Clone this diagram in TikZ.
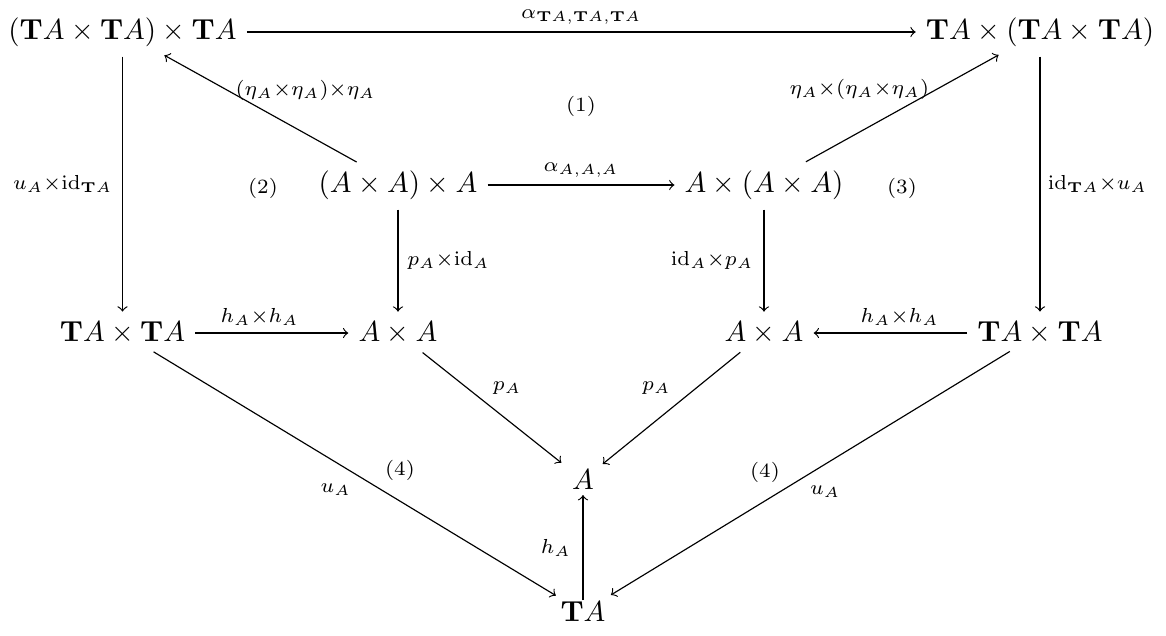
\documentclass[tikz,border=0pt]{standalone}
\usetikzlibrary{calc}
\begin{document}
\begin{tikzpicture}[x=0.345pt,y=-0.345pt,>=to,
  obj/.style={inner sep=3.33pt},
  lbl/.style={inner sep=2.5pt},
  reg/.style={font=\scriptsize, inner sep=0pt}]
\useasboundingbox (0,0) rectangle (1166,635);
% objects
\node[obj] (tl)  at (122.5,32)  {$(\mathbf{T}A\times\mathbf{T}A)\times\mathbf{T}A$};
\node[obj] (tr)  at (1040,32) {$\mathbf{T}A\times(\mathbf{T}A\times\mathbf{T}A)$};
\node[obj] (al)  at (398,185) {$(A\times A)\times A$};
\node[obj] (ar)  at (764,185) {$A\times(A\times A)$};
\node[obj] (ttl) at (122.5,333) {$\mathbf{T}A\times\mathbf{T}A$};
\node[obj] (aal) at (398,333) {$A\times A$};
\node[obj] (aar) at (764,333) {$A\times A$};
\node[obj] (ttr) at (1040,333) {$\mathbf{T}A\times\mathbf{T}A$};
\node[obj] (a)   at (583,480) {$A$};
\node[obj] (ta)  at (583,612) {$\mathbf{T}A$};
% region labels
\node[reg] (r1)  at (581,106) {$(1)$};
\node[reg] (r2)  at (263,188) {$(2)$};
\node[reg] (r3)  at (902,188) {$(3)$};
\node[reg] (r4l) at (400,470) {$(4)$};
\node[reg] (r4r) at (765,472) {$(4)$};
% arrows
\draw[->] (tl) -- node[lbl,above] {$\scriptstyle\alpha_{\mathbf{T}A,\mathbf{T}A,\mathbf{T}A}$} (tr);
\draw[->] (al) -- node[lbl,above] {$\scriptstyle\alpha_{A,A,A}$} (ar);
\draw[->] ($(al)!0.15!(tl)$) -- node[lbl,pos=0.67,anchor=west] {$\scriptstyle(\eta_A\times\eta_A)\times\eta_A$} ($(al)!0.848!(tl)$);
\draw[->] ($(ar)!0.152!(tr)$) -- node[lbl,pos=0.68,anchor=east] {$\scriptstyle\eta_A\times(\eta_A\times\eta_A)$} ($(ar)!0.85!(tr)$);
\draw[->] (tl) -- node[lbl,left,inner sep=3.33pt] {$\scriptstyle u_A\times \mathrm{id}_{\mathbf{T}A}$} (ttl);
\draw[->] (tr) -- node[lbl,right] {$\scriptstyle\mathrm{id}_{\mathbf{T}A}\times u_A$} (ttr);
\draw[->] (al) -- node[lbl,right,inner sep=3pt] {$\scriptstyle p_A\times \mathrm{id}_A$} (aal);
\draw[->] (ar) -- node[lbl,left,inner sep=3.5pt] {$\scriptstyle\mathrm{id}_A\times p_A$} (aar);
\draw[->] (ttl) -- node[lbl,above,pos=0.42] {$\scriptstyle h_A\times h_A$} (aal);
\draw[->] (ttr) -- node[lbl,above,pos=0.44] {$\scriptstyle h_A\times h_A$} (aar);
\draw[->] ($(aal)!0.133!(a)$) -- node[lbl,pos=0.45,anchor=south west] {$\scriptstyle p_A$} ($(aal)!0.883!(a)$);
\draw[->] ($(aar)!0.131!(a)$) -- node[lbl,pos=0.45,anchor=south east] {$\scriptstyle p_A$} ($(aar)!0.891!(a)$);
\draw[->] ($(ttl)!0.0675!(ta)$) -- node[lbl,pos=0.51,anchor=north east] {$\scriptstyle u_A$} ($(ttl)!0.941!(ta)$);
\draw[->] ($(ttr)!0.066!(ta)$) -- node[lbl,pos=0.52,anchor=north west] {$\scriptstyle u_A$} ($(ttr)!0.939!(ta)$);
\draw[->] ($(ta)!0.09!(a)$) -- node[lbl,left,inner sep=4pt] {$\scriptstyle h_A$} ($(ta)!0.886!(a)$);
\end{tikzpicture}
\end{document}
